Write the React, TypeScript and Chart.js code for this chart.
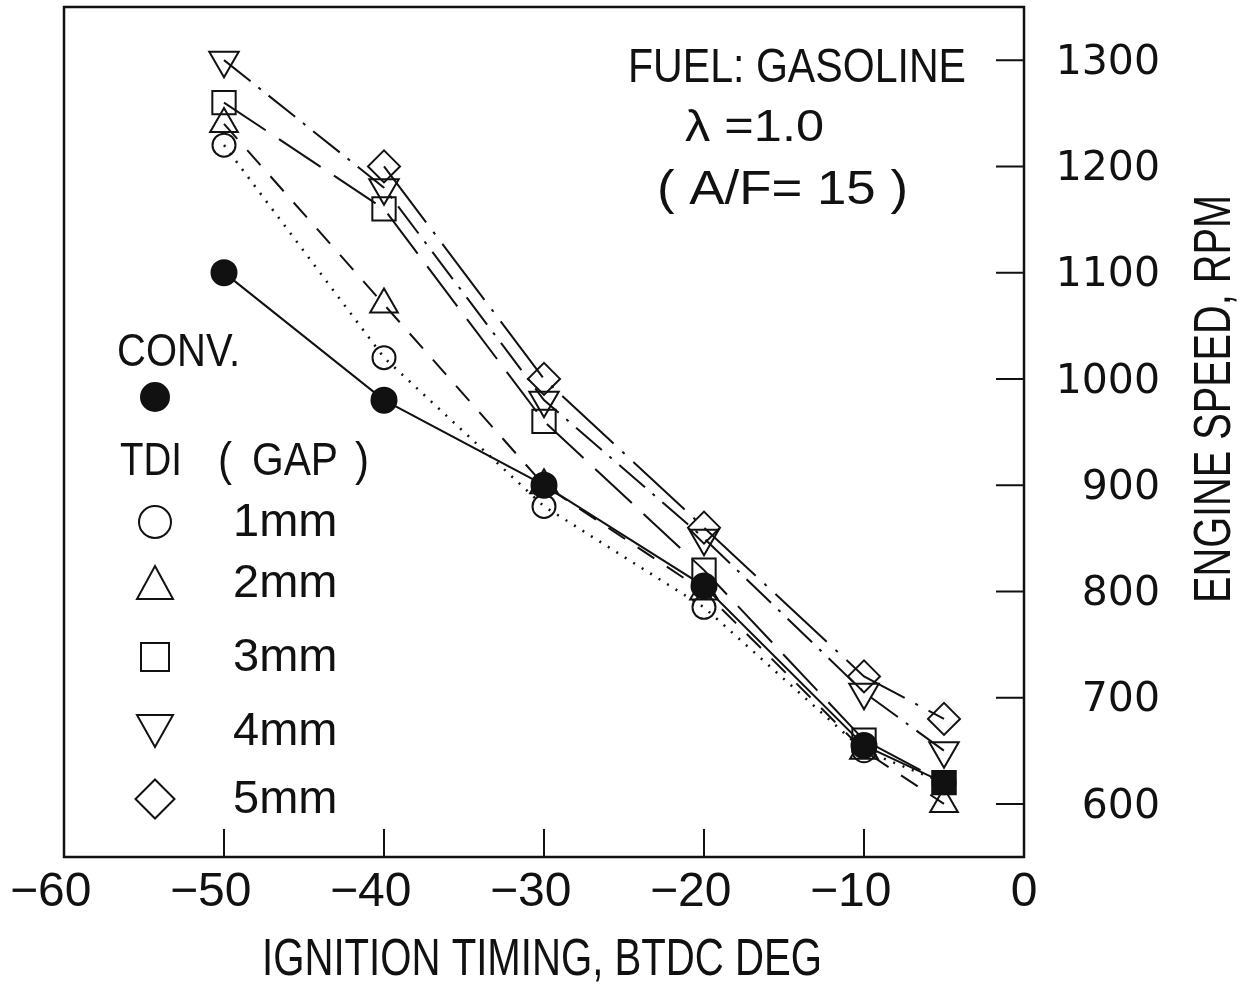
import React, { useEffect, useRef } from 'react';
import { Chart, registerables } from 'chart.js';

Chart.register(...registerables);

// ---- data ----
const timing = [-50, -40, -30, -20, -10, -5];
const conv = [1100, 980, 900, 805, 655, 620];
const gap1mm = [1220, 1020, 880, 785, 650, 620];
const gap2mm = [1240, 1070, 900, 800, 650, 600];
const gap3mm = [1260, 1160, 960, 820, 660, 620];
const gap4mm = [1300, 1180, 980, 850, 705, 650];
const gap5mm = [null, 1200, 1000, 860, 720, 680];

const xMin = -60;
const xMax = 0;
const xStep = 5;
const yMin = 550;
const yMax = 1350;
const yStep = 50;
const yLabelValues = [600, 700, 800, 900, 1000, 1100, 1200, 1300];
const xLabelValues = [-60, -50, -40, -30, -20, -10, 0];

const xTitle = 'IGNITION TIMING, BTDC DEG';
const yTitle = 'ENGINE SPEED, RPM';
const noteLines = ['FUEL: GASOLINE', 'λ =1.0', '( A/F= 15 )'];
const convLabel = 'CONV.';
const tdiLabel = ['TDI', '(', 'GAP', ')'];
const gapLabels = ['1mm', '2mm', '3mm', '4mm', '5mm'];
const gapStyles = ['circle', 'triangle', 'rect', 'invTriangle', 'diamond'];

const INK = '#111';

function pts(ys: (number | null)[]) {
  return timing.map((x, i) => ({ x, y: ys[i] }));
}

function fitText(ctx: CanvasRenderingContext2D, text: string, x: number, y: number, size: number, width: number) {
  ctx.save();
  ctx.font = `${size}px "Liberation Sans", Arial, sans-serif`;
  ctx.textAlign = 'left';
  ctx.textBaseline = 'alphabetic';
  const w = ctx.measureText(text).width || 1;
  ctx.translate(x, y);
  ctx.scale(width / w, 1);
  ctx.fillStyle = INK;
  ctx.fillText(text, 0, 0);
  ctx.restore();
}

function drawSymbol(ctx: CanvasRenderingContext2D, style: string, cx: number, cy: number) {
  ctx.beginPath();
  if (style === 'circle') {
    ctx.arc(cx, cy, 16, 0, Math.PI * 2);
  } else if (style === 'triangle') {
    ctx.moveTo(cx, cy - 17);
    ctx.lineTo(cx + 18, cy + 16);
    ctx.lineTo(cx - 18, cy + 16);
    ctx.closePath();
  } else if (style === 'rect') {
    ctx.rect(cx - 14, cy - 14, 28, 28);
  } else if (style === 'invTriangle') {
    ctx.moveTo(cx - 18, cy - 16);
    ctx.lineTo(cx + 18, cy - 16);
    ctx.lineTo(cx, cy + 16);
    ctx.closePath();
  } else {
    ctx.moveTo(cx, cy - 19.5);
    ctx.lineTo(cx + 19.5, cy);
    ctx.lineTo(cx, cy + 19.5);
    ctx.lineTo(cx - 19.5, cy);
    ctx.closePath();
  }
  ctx.stroke();
}

const decorPlugin = {
  id: 'decor',
  beforeDraw(chart: any) {
    const ctx = chart.ctx;
    ctx.save();
    ctx.fillStyle = '#fff';
    ctx.fillRect(0, 0, chart.width, chart.height);
    ctx.restore();
  },
  afterDraw(chart: any) {
    const ctx: CanvasRenderingContext2D = chart.ctx;
    const a = chart.chartArea;
    const xs = chart.scales.x;
    const ys = chart.scales.y;
    ctx.save();
    ctx.strokeStyle = INK;
    ctx.fillStyle = INK;
    // frame
    ctx.lineWidth = 2.5;
    ctx.strokeRect(a.left, a.top, a.right - a.left, a.bottom - a.top);
    // inward tick marks
    ctx.lineWidth = 2;
    ctx.beginPath();
    xs.ticks.forEach((t: any) => {
      const px = xs.getPixelForValue(t.value);
      if (px <= a.left + 1 || px >= a.right - 1) return;
      const len = t.value % 10 === 0 ? 28 : 15;
      ctx.moveTo(px, a.bottom);
      ctx.lineTo(px, a.bottom - len);
    });
    ys.ticks.forEach((t: any) => {
      const py = ys.getPixelForValue(t.value);
      if (py <= a.top + 1 || py >= a.bottom - 1) return;
      const len = t.value % 100 === 0 ? 28 : 15;
      ctx.moveTo(a.right, py);
      ctx.lineTo(a.right - len, py);
    });
    ctx.stroke();

    // axis titles
    fitText(ctx, xTitle, 262, 975, 52, 560);
    ctx.save();
    ctx.translate(1230, 603);
    ctx.rotate(-Math.PI / 2);
    fitText(ctx, yTitle, 0, 0, 52, 408);
    ctx.restore();

    // note block
    fitText(ctx, noteLines[0], 628, 82, 49, 338);
    fitText(ctx, noteLines[1], 685, 141, 44, 139);
    fitText(ctx, noteLines[2], 657, 204, 48, 251);

    // legend block
    fitText(ctx, convLabel, 117, 366, 46, 123);
    ctx.beginPath();
    ctx.arc(155, 397, 15, 0, Math.PI * 2);
    ctx.fill();
    fitText(ctx, tdiLabel[0], 120, 475, 46, 62);
    fitText(ctx, tdiLabel[1], 218, 475, 46, 14);
    fitText(ctx, tdiLabel[2], 252, 475, 46, 86);
    fitText(ctx, tdiLabel[3], 355, 475, 46, 14);

    const rowsY = [522, 583, 657, 731, 799];
    ctx.lineWidth = 2;
    gapLabels.forEach((lab, i) => {
      drawSymbol(ctx, gapStyles[i], 155, rowsY[i]);
      ctx.save();
      ctx.font = '47px "Liberation Sans", Arial, sans-serif';
      ctx.textBaseline = 'middle';
      ctx.textAlign = 'left';
      ctx.fillStyle = INK;
      ctx.fillText(lab, 233, rowsY[i] + 1);
      ctx.restore();
    });
    ctx.restore();
  },
};

export default function App() {
  const ref = useRef<HTMLCanvasElement>(null);

  useEffect(() => {
    const canvas = ref.current;
    if (!canvas) return;
    const open = 'rgba(0,0,0,0)';
    const base = {
      borderColor: INK,
      borderWidth: 2,
      pointBorderColor: INK,
      pointBorderWidth: 2,
      pointBackgroundColor: open,
      tension: 0,
      fill: false,
      pointHoverRadius: 0,
    };
    const chart = new Chart(canvas, {
      type: 'line',
      data: {
        datasets: [
          {
            ...base,
            label: 'CONV.',
            data: pts(conv),
            pointStyle: ['circle', 'circle', 'circle', 'circle', 'circle', 'rect'] as any,
            pointRadius: [12.5, 12.5, 12.5, 12.5, 12.5, 16],
            pointBackgroundColor: INK,
          },
          {
            ...base,
            label: '1mm',
            data: pts(gap1mm),
            pointStyle: 'circle',
            pointRadius: 11.5,
            borderDash: [2, 8],
            borderWidth: 2.5,
          },
          {
            ...base,
            label: '2mm',
            data: pts(gap2mm),
            pointStyle: 'triangle',
            pointRadius: 16,
            borderDash: [20, 15],
          },
          {
            ...base,
            label: '3mm',
            data: pts(gap3mm),
            pointStyle: 'rect',
            pointRadius: 16.5,
            borderDash: [50, 16],
          },
          {
            ...base,
            label: '4mm',
            data: pts(gap4mm),
            pointStyle: 'triangle',
            pointRotation: 180,
            pointRadius: 17,
            borderDash: [34, 10, 3, 10],
          },
          {
            ...base,
            label: '5mm',
            data: pts(gap5mm),
            pointStyle: 'rectRot',
            pointRadius: 16,
            borderDash: [70, 12, 3, 12],
          },
        ],
      },
      options: {
        responsive: false,
        animation: false,
        devicePixelRatio: 1,
        events: [],
        layout: { autoPadding: false, padding: { left: 64, top: 7, right: 94, bottom: 0 } },
        plugins: {
          legend: { display: false },
          tooltip: { enabled: false },
          title: { display: false },
        },
        scales: {
          x: {
            type: 'linear',
            position: 'bottom',
            min: xMin,
            max: xMax,
            grid: { display: false, drawTicks: false },
            border: { display: false },
            ticks: {
              stepSize: xStep,
              autoSkip: false,
              maxRotation: 0,
              minRotation: 0,
              padding: 7,
              color: INK,
              font: { family: '"Liberation Sans", Arial, sans-serif', size: 48 },
              callback: (v: any) => {
                const n = Number(v);
                if (!xLabelValues.includes(n)) return null;
                return n < 0 ? '\u2212' + Math.abs(n) + '  ' : String(n);
              },
            },
            afterFit: (s: any) => {
              s.height = 129;
              s.paddingLeft = 0;
              s.paddingRight = 0;
            },
          },
          y: {
            type: 'linear',
            position: 'right',
            min: yMin,
            max: yMax,
            grid: { display: false, drawTicks: false },
            border: { display: false },
            ticks: {
              stepSize: yStep,
              autoSkip: false,
              crossAlign: 'far',
              padding: 0,
              labelOffset: 3,
              color: INK,
              font: { family: '"DejaVu Sans", sans-serif', size: 41 },
              callback: (v: any) => {
                const n = Number(v);
                return yLabelValues.includes(n) ? String(n) : null;
              },
            },
            afterFit: (s: any) => {
              s.width = 136;
              s.paddingTop = 0;
              s.paddingBottom = 0;
            },
          },
        },
      } as any,
      plugins: [decorPlugin],
    });
    return () => chart.destroy();
  }, []);

  return (
    <div style={{ position: 'fixed', left: 0, top: 0, width: 1254, height: 986, background: '#fff' }}>
      <canvas ref={ref} width={1254} height={986} style={{ display: 'block', width: 1254, height: 986 }} />
    </div>
  );
}
